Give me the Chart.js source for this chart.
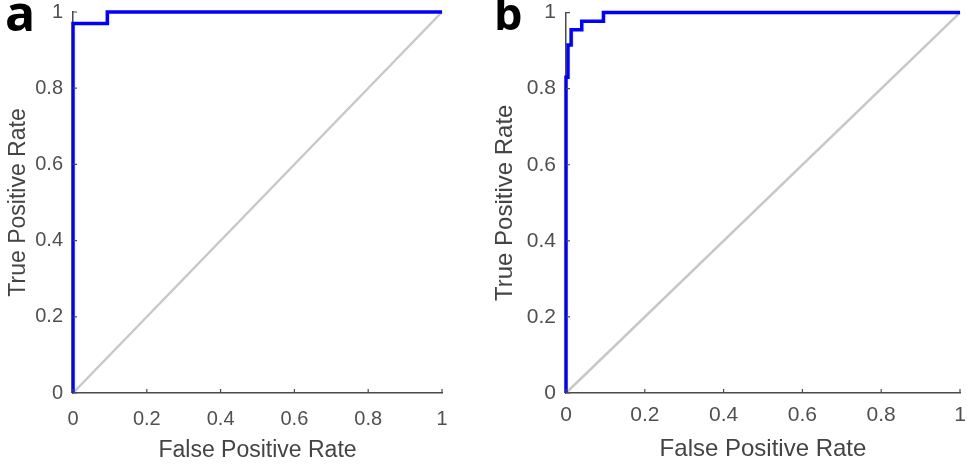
<!DOCTYPE html>
<html>
<head>
<meta charset="utf-8">
<script src="https://cdn.jsdelivr.net/npm/chart.js@4"></script>
<style>
    body { margin: 0; background: #fff; width: 967px; height: 464px; overflow: hidden; position: relative; }
    .panneau { position: absolute; top: 0; height: 464px; }
    .lettre { position: absolute; font-family: "Open Sans", "Liberation Sans", sans-serif; font-weight: bold; color: #000; line-height: 1; }
</style>
</head>
<body>
<div class="panneau" style="left:0;width:460px"><canvas id="graphique1"></canvas></div>
<div class="panneau" style="left:480px;width:487px"><canvas id="graphique2"></canvas></div>
<div class="lettre" style="left:5px;top:-13px;font-size:50px">a</div>
<div class="lettre" style="left:494px;top:-10px;font-size:45px">b</div>
<script>
// courbe ROC panneau a
const fprA = [0, 0, 0.093, 0.093, 1];
const tprA = [0, 0.97, 0.97, 1, 1];

// courbe ROC panneau b
const fprB = [0, 0, 0.005, 0.005, 0.013, 0.013, 0.04, 0.04, 0.095, 0.095, 1];
const tprB = [0, 0.83, 0.83, 0.915, 0.915, 0.955, 0.955, 0.977, 0.977, 1, 1];

// diagonale (classifieur aléatoire)
const diagX = [0, 1];
const diagY = [0, 1];

const tickVals = [0, 0.2, 0.4, 0.6, 0.8, 1];
const tickLabels = ['0', '0.2', '0.4', '0.6', '0.8', '1'];

const xTitle = 'False Positive Rate';
const yTitle = 'True Positive Rate';

const axisColor = '#4a4a4a';
const textColor = '#505050';
const titleColor = '#444444';

function toPoints(xs, ys) {
    return xs.map((x, i) => ({ x: x, y: ys[i] }));
}

// petites graduations tournées vers l'intérieur, comme sous MATLAB
const ticksInterieurs = {
    id: 'ticksInterieurs',
    afterDraw(chart) {
        const ctx = chart.ctx;
        const xs = chart.scales.x;
        const ys = chart.scales.y;
        const area = chart.chartArea;
        ctx.save();
        ctx.strokeStyle = axisColor;
        ctx.lineWidth = 1.2;
        ctx.beginPath();
        tickVals.forEach(v => {
            const px = xs.getPixelForValue(v);
            ctx.moveTo(px, area.bottom);
            ctx.lineTo(px, area.bottom - 4);
            const py = ys.getPixelForValue(v);
            ctx.moveTo(area.left, py);
            ctx.lineTo(area.left + 4, py);
        });
        ctx.stroke();
        ctx.restore();
    }
};

function creerGraphique(id, fpr, tpr, cfg) {
    const ctx = document.getElementById(id).getContext('2d');
    return new Chart(ctx, {
        type: 'scatter',
        data: {
            datasets: [
                {
                    data: toPoints(fpr, tpr),
                    showLine: true,
                    borderColor: '#0000ff',
                    borderWidth: 3.5,
                    pointRadius: 0,
                    pointHoverRadius: 0,
                    tension: 0,
                    clip: false
                },
                {
                    data: toPoints(diagX, diagY),
                    showLine: true,
                    borderColor: '#c8c8c8',
                    borderWidth: 2.5,
                    pointRadius: 0,
                    pointHoverRadius: 0,
                    clip: false
                }
            ]
        },
        options: {
            responsive: true,
            maintainAspectRatio: false,
            animation: false,
            layout: { autoPadding: false, padding: { top: 12, right: cfg.right, bottom: 0, left: 0 } },
            plugins: { legend: { display: false }, tooltip: { enabled: false } },
            scales: {
                x: {
                    type: 'linear',
                    min: 0,
                    max: 1,
                    afterBuildTicks: s => { s.ticks = tickVals.map(v => ({ value: v })); },
                    afterFit: s => { s.height = 71; },
                    // l'écart étiquette/axe passe par tickLength (marques invisibles)
                    grid: { display: false, drawTicks: true, tickLength: cfg.xGap },
                    border: { display: true, color: axisColor, width: 1.5 },
                    ticks: {
                        color: textColor,
                        padding: 0,
                        maxRotation: 0,
                        font: { family: 'Liberation Sans', size: cfg.tickSize },
                        callback: (v, i) => tickLabels[i]
                    },
                    title: {
                        display: true,
                        text: xTitle,
                        color: titleColor,
                        padding: { top: 2, bottom: 0 },
                        font: { family: 'Liberation Sans', size: cfg.titleSize }
                    }
                },
                y: {
                    type: 'linear',
                    min: 0,
                    max: 1,
                    afterBuildTicks: s => { s.ticks = tickVals.map(v => ({ value: v })); },
                    afterFit: s => { s.width = cfg.yWidth; },
                    grid: { display: false, drawTicks: true, tickLength: 10 },
                    border: { display: true, color: axisColor, width: 1.5 },
                    ticks: {
                        color: textColor,
                        padding: 0,
                        font: { family: 'Liberation Sans', size: cfg.tickSize },
                        callback: (v, i) => tickLabels[i]
                    },
                    title: {
                        display: true,
                        text: yTitle,
                        color: titleColor,
                        padding: { top: cfg.yTitlePad, bottom: 0 },
                        font: { family: 'Liberation Sans', size: cfg.titleSize }
                    }
                }
            }
        },
        plugins: [ticksInterieurs]
    });
}

creerGraphique('graphique1', fprA, tprA, { right: 18, yWidth: 73, xGap: 14, tickSize: 20, titleSize: 23, yTitlePad: 5 });
creerGraphique('graphique2', fprB, tprB, { right: 7, yWidth: 86, xGap: 10, tickSize: 21, titleSize: 24, yTitlePad: 11 });
</script>
</body>
</html>
